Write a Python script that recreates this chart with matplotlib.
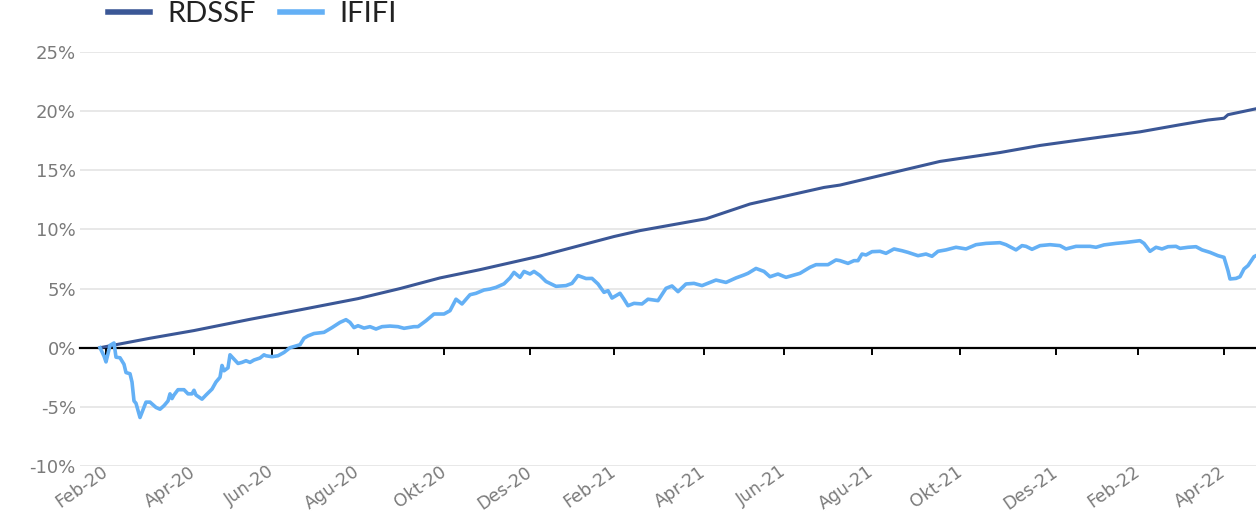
import matplotlib.pyplot as plt

# x is a trading-day index; month labels sit on the first session of every second month
TICK_POS = [3, 47, 86, 129, 172, 215, 257, 302, 342, 386, 430, 478, 519, 562]
TICK_LABELS = ["Feb-20", "Apr-20", "Jun-20", "Agu-20", "Okt-20", "Des-20",
               "Feb-21", "Apr-21", "Jun-21", "Agu-21", "Okt-21", "Des-21",
               "Feb-22", "Apr-22"]

# cumulative return, %
RDSSF_DAY = [0, 25, 47, 75, 100, 129, 150, 170, 190, 220, 257, 270, 303, 325,
             362, 370, 400, 420, 450, 470, 500, 520, 540, 554, 562, 564, 578]
RDSSF_RET = [0.0, 0.8, 1.45, 2.4, 3.2, 4.15, 5.0, 5.9, 6.6, 7.75, 9.4, 9.9,
             10.9, 12.15, 13.55, 13.75, 14.95, 15.75, 16.5, 17.1, 17.8, 18.25,
             18.85, 19.25, 19.4, 19.7, 20.2]

IFIFI_DAY = [0, 2, 3, 5, 7, 8, 10, 12, 13, 15, 16, 17, 18, 20, 22, 23, 25, 27,
             28, 30, 32, 34, 35, 36, 37, 39, 42, 44, 46, 47, 48, 51, 53, 56, 58,
             60, 61, 62, 64, 65, 67, 69, 71, 73, 75, 77, 80, 82, 83, 86, 89, 92,
             95, 97, 100, 102, 104, 107, 112, 116, 120, 123, 125, 127, 129, 132,
             135, 138, 141, 145, 149, 152, 157, 159, 163, 167, 172, 175, 178,
             181, 185, 188, 192, 195, 198, 202, 205, 207, 210, 212, 215, 217,
             220, 223, 228, 233, 236, 239, 243, 246, 249, 252, 254, 256, 260,
             262, 264, 267, 271, 274, 279, 283, 286, 289, 293, 297, 301, 308,
             313, 318, 322, 324, 328, 332, 335, 339, 343, 350, 355, 358, 364,
             368, 370, 374, 377, 379, 381, 383, 386, 390, 393, 397, 401, 404,
             409, 413, 416, 419, 423, 428, 433, 438, 443, 450, 453, 458, 461,
             463, 466, 470, 475, 480, 483, 488, 495, 498, 502, 508, 513, 520,
             522, 525, 528, 531, 534, 538, 540, 544, 548, 551, 555, 559, 562,
             564, 565, 568, 570, 572, 574, 577, 578]
IFIFI_RET = [0.0, -0.7, -1.2, 0.2, 0.4, -0.8, -0.85, -1.4, -2.1, -2.2, -2.9,
             -4.5, -4.7, -5.9, -5.05, -4.6, -4.6, -4.9, -5.05, -5.2, -4.9, -4.5,
             -3.9, -4.3, -4.0, -3.55, -3.55, -3.9, -3.9, -3.6, -4.0, -4.35, -4.0,
             -3.5, -2.9, -2.5, -1.5, -1.95, -1.7, -0.6, -0.96, -1.33, -1.24,
             -1.1, -1.24, -1.04, -0.87, -0.6, -0.68, -0.76, -0.68, -0.4, 0.0,
             0.1, 0.25, 0.8, 1.0, 1.2, 1.3, 1.7, 2.14, 2.37, 2.14, 1.7, 1.86,
             1.66, 1.78, 1.58, 1.78, 1.83, 1.78, 1.64, 1.78, 1.78, 2.28, 2.85,
             2.85, 3.13, 4.1, 3.7, 4.48, 4.6, 4.88, 4.96, 5.1, 5.4, 5.9, 6.37,
             5.95, 6.45, 6.23, 6.45, 6.1, 5.6, 5.19, 5.25, 5.44, 6.1, 5.85,
             5.86, 5.39, 4.68, 4.82, 4.2, 4.6, 4.1, 3.55, 3.75, 3.7, 4.1, 3.98,
             5.02, 5.22, 4.74, 5.39, 5.44, 5.25, 5.72, 5.52, 5.9, 6.15, 6.29,
             6.7, 6.45, 6.0, 6.23, 5.95, 6.29, 6.8, 7.02, 7.02, 7.42, 7.36, 7.13,
             7.36, 7.36, 7.92, 7.84, 8.12, 8.15, 7.98, 8.35, 8.2, 8.06, 7.78,
             7.92, 7.73, 8.15, 8.27, 8.49, 8.35, 8.71, 8.82, 8.88, 8.71, 8.27,
             8.63, 8.57, 8.32, 8.63, 8.71, 8.63, 8.35, 8.57, 8.57, 8.49, 8.69,
             8.82, 8.9, 9.05, 8.82, 8.15, 8.49, 8.35, 8.54, 8.57, 8.4, 8.49,
             8.54, 8.27, 8.06, 7.78, 7.64, 6.51, 5.81, 5.86, 6.0, 6.66, 6.94,
             7.7, 7.78]

DARK_BLUE = "#3b5796"
LIGHT_BLUE = "#64b0f5"
LABEL_GREY = "#7a7a7a"

fig = plt.figure(figsize=(12.56, 5.11), dpi=100)
ax = fig.add_axes([80 / 1256, 1 - 466 / 511, 1 - 80 / 1256, 414 / 511])

ax.plot(RDSSF_DAY, RDSSF_RET, color=DARK_BLUE, linewidth=2.2, label="RDSSF", zorder=3)
ax.plot(IFIFI_DAY, IFIFI_RET, color=LIGHT_BLUE, linewidth=2.6, label="IFIFI", zorder=3)

ax.set_xlim(-10, 578)
ax.set_ylim(-10, 25)
ax.set_yticks(range(-10, 30, 5))
ax.set_yticklabels([f"{v}%" for v in range(-10, 30, 5)])
ax.tick_params(axis="y", length=0, pad=3, labelsize=13, labelcolor=LABEL_GREY)
ax.grid(axis="y", color="#e6e6e6", linewidth=1.3)
ax.set_axisbelow(True)

for side in ("top", "right", "left"):
    ax.spines[side].set_visible(False)

# the zero line carries the tick marks
ax.spines["bottom"].set_position(("data", 0))
ax.spines["bottom"].set_color("black")
ax.spines["bottom"].set_linewidth(1.6)
ax.set_xticks(TICK_POS)
ax.tick_params(axis="x", direction="out", length=5, width=1.4, color="black",
               labelbottom=False)

# month labels sit under the plot area
lab = ax.secondary_xaxis("bottom")
lab.set_xticks(TICK_POS, labels=TICK_LABELS)
lab.spines["bottom"].set_visible(False)
lab.tick_params(length=0, pad=3, labelsize=12.5, labelcolor=LABEL_GREY)
for t in lab.get_xticklabels():
    t.set_rotation(35)
    t.set_ha("right")
    t.set_va("center")
    t.set_rotation_mode("anchor")

fig.legend(loc="center left", bbox_to_anchor=(108 / 1256, 1 - 14 / 511),
           ncol=2, frameon=False, borderpad=0, borderaxespad=0,
           handlelength=1.45, handletextpad=0.6, columnspacing=0.8,
           prop={"family": "Lato", "weight": "normal", "size": 21},
           labelcolor="#222222")
for line in fig.legends[0].get_lines():
    line.set_linewidth(4)

fig.savefig("out.png", dpi=100)
